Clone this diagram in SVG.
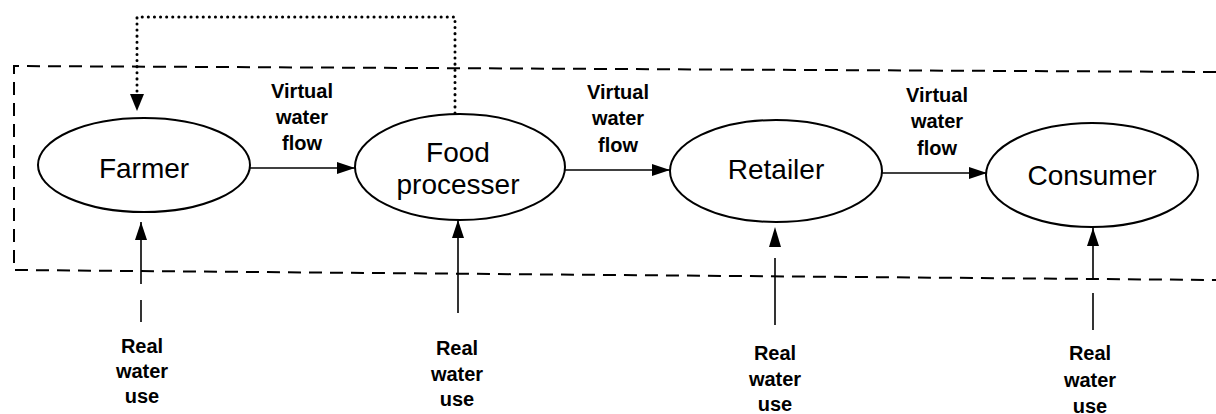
<svg xmlns="http://www.w3.org/2000/svg" width="1216" height="414" viewBox="0 0 1216 414">
<style>
.node ellipse{fill:#fff;stroke:#000;stroke-width:2}
.nl{font-family:"Liberation Sans",Arial,sans-serif;font-size:28px;text-anchor:middle;fill:#000}
.lb{font-family:"Liberation Sans",Arial,sans-serif;font-size:20px;font-weight:bold;text-anchor:middle;fill:#000}
.ln{stroke:#000;stroke-width:1.6;fill:none}
.box{stroke:#000;stroke-width:2;fill:none;stroke-dasharray:13 8}
.dot{stroke:#000;stroke-width:3;fill:none;stroke-dasharray:0.1 6;stroke-linecap:round}
</style>
<defs>
<marker id="ah" viewBox="0 0 18 12" refX="18" refY="6" markerWidth="18" markerHeight="12" markerUnits="userSpaceOnUse" orient="auto">
<path d="M0,0 L18,6 L0,12 Z" fill="#000"/>
</marker>
</defs>
<g id="boundary">
<path class="box" d="M1216,72 L14,66 L14,270 L1216,280"/>
</g>
<g id="connectors">
<path class="ln" d="M250,168 L355,168" marker-end="url(#ah)"/>
<path class="ln" d="M565,170 L670,170" marker-end="url(#ah)"/>
<path class="ln" d="M882,173 L987,173" marker-end="url(#ah)"/>
<path class="dot" d="M455,113 L455,17 L137,17 L137,98"/>
<path d="M130,94 L144,94 L137,111 Z" fill="#000"/>
<path class="ln" d="M141,284 L141,222" marker-end="url(#ah)"/>
<path class="ln" d="M141,300 L141,322"/>
<path class="ln" d="M458,313 L458,220" marker-end="url(#ah)"/>
<path class="ln" d="M775,325 L775,258"/>
<path d="M769,247 L781,247 L775,227 Z" fill="#000"/>
<path class="ln" d="M1093,278 L1093,228" marker-end="url(#ah)"/>
<path class="ln" d="M1093,293 L1093,330"/>
</g>
<g id="farmer" class="node">
<ellipse cx="144" cy="165" rx="106" ry="47"/>
<text class="nl" x="144" y="178">Farmer</text>
</g>
<g id="food-processer" class="node">
<ellipse cx="460" cy="167" rx="105" ry="53"/>
<text class="nl" x="458" y="162">Food</text>
<text class="nl" x="458" y="194">processer</text>
</g>
<g id="retailer" class="node">
<ellipse cx="776" cy="171" rx="106" ry="51"/>
<text class="nl" x="776" y="179">Retailer</text>
</g>
<g id="consumer" class="node">
<ellipse cx="1092" cy="175" rx="106" ry="52"/>
<text class="nl" x="1092" y="185">Consumer</text>
</g>
<g id="labels">
<text class="lb" x="302" y="98">Virtual</text>
<text class="lb" x="302" y="124">water</text>
<text class="lb" x="302" y="150">flow</text>
<text class="lb" x="618" y="99">Virtual</text>
<text class="lb" x="618" y="125">water</text>
<text class="lb" x="618" y="152">flow</text>
<text class="lb" x="937" y="102">Virtual</text>
<text class="lb" x="937" y="128">water</text>
<text class="lb" x="937" y="155">flow</text>
<text class="lb" x="142" y="353">Real</text>
<text class="lb" x="142" y="378">water</text>
<text class="lb" x="142" y="403">use</text>
<text class="lb" x="457" y="355">Real</text>
<text class="lb" x="457" y="381">water</text>
<text class="lb" x="457" y="406">use</text>
<text class="lb" x="775" y="360">Real</text>
<text class="lb" x="775" y="386">water</text>
<text class="lb" x="775" y="411">use</text>
<text class="lb" x="1090" y="360">Real</text>
<text class="lb" x="1090" y="387">water</text>
<text class="lb" x="1090" y="413">use</text>
</g>
</svg>
